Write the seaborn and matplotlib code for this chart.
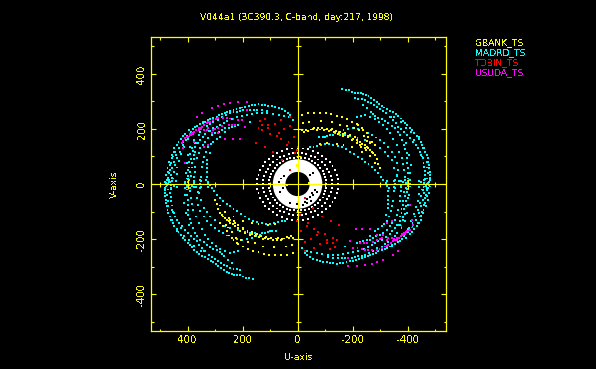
import pandas as pd
import seaborn as sns
import matplotlib
matplotlib.use("Agg")
import matplotlib.pyplot as plt
from matplotlib.patches import Wedge

title = "V044a1 (3C390.3, C-band, day:217, 1998)"
stations = ["GBANK_TS", "MADRD_TS", "TDBIN_TS", "USUDA_TS"]
colors = {"GBANK_TS": "#ffff00", "MADRD_TS": "#00ffff", "TDBIN_TS": "#ff0000", "USUDA_TS": "#ff00ff", "ALL": "#ffffff", "GAP": "#000000"}
major_ticks = [400, 200, 0, -200, -400]
major_labels = ["400", "200", "0", "-200", "-400"]
minor_ticks = [500, 300, 100, -100, -300, -500]

# points, (u, v), one list per quadrant
madrd_ul = [(481,-16),(481,9),(478,33),(473,57),(466,81),(457,105),(448,130),(433,154),(415,175),
    (461,-16),(463,9),(461,33),(456,57),(449,81),(441,105),(432,130),(418,154),(403,175),(388,190),(372,206),(354,217),(336,227),(318,235),(294,245),(275,253),(255,262),(233,269),(211,275),(191,281),(166,286),(142,289),(118,287),(94,282),(69,276),(45,265),(27,251),(17,233),
    (450,-8),(452,20),(450,45),(445,70),(438,95),(428,118),(418,140),(405,160),
    (409,-16),(409,9),(406,39),(403,75),(397,105),(391,136),(378,160),(354,190),(330,211),(306,227),(275,242),(245,257),(221,263),(197,269),(172,269),(148,269),(112,265),
    (391,-16),(393,15),(391,45),(384,75),(378,105),(372,136),(354,160),(336,182),(306,202),(281,215),(257,230),(221,242),(184,251),(148,257),(112,257),(69,251),(33,242),
    (400,-4),(398,28),(395,60),(388,90),(382,120),(366,150),(345,172),(320,192),
    (376,-10),(376,27),(372,63),(366,93),(354,130),(336,154),(312,178),(287,190),(263,202),(239,208),(215,215),(172,227),
    (352,-10),(352,27),(348,63),(340,99),(327,136),(306,154),(281,170),(263,190),
    (324,-10),(328,27),(330,57),(328,87),(320,112)]
madrd_ul2 = [(475,-5),(471,21),(470,45),(465,69),(458,93),(448,117),(440,142),(425,165),
    (470,-20),(470,0),(469,15),(468,40),(463,50),(460,75),(452,100),(445,118),(437,140),
    (440,-12),(442,10),(440,35),(437,60),(430,85),(423,108),(414,135),(400,165),
    (402,-10),(403,20),(400,50),(396,80),(390,110),(383,130),(372,148),(360,178),(342,198),(318,218),(290,234),(260,250),(233,260),(209,266),(185,268),(160,270),(130,268),
    (385,-8),(386,30),(384,60),(378,90),(372,118),(362,150),(345,170),(322,192),(294,208),(269,222),(240,236),(202,246),(166,254),(130,258),(90,255),(50,248),
    (345,222),(327,231),(306,240),(285,249),(265,257),(244,265),(222,272),(201,278),(178,283),(154,288),(130,288),(106,285),(82,279),(57,271),(36,258),
    (410,180),(395,195),(380,200),(365,210),(345,226),
    (376,10),(372,45),(360,112),(345,142),(325,166),(300,184),(275,196),(251,205),(227,212),
    (352,10),(345,80),(334,118),(316,145),(293,162),(326,8),(330,42),(329,72)]
madrd_ur = [(-163,345),(-187,341),(-209,332),(-230,330),(-248,324),(-267,312),(-288,299),(-306,284),(-327,272),(-348,261),(-367,247),(-385,230),(-399,215),(-417,196),(-433,175),(-448,154),(-460,130),(-470,105),(-476,81),(-479,57),(-482,33),(-479,9),(-476,-16),
    (-209,312),(-233,308),(-257,299),(-278,287),(-300,272),(-322,257),(-348,233),(-367,208),(-387,190),(-409,166),(-431,142),(-445,118),(-455,93),(-460,63),(-464,33),(-460,2),(-457,-22),
    (-340,245),(-395,205),(-425,160),(-452,100),(-470,60),(-472,20),(-468,-8),
    (-239,287),(-266,263),(-282,247),(-306,235),(-330,221),(-354,202),(-373,178),(-387,142),(-397,112),(-397,75),(-403,39),(-403,2),(-397,-19),
    (-215,242),(-245,251),(-282,235),(-312,215),(-336,184),(-360,142),(-379,93),(-387,51),(-394,2),
    (-100,172),(-136,184),(-167,196),(-203,202),(-239,196),(-270,178),(-300,160),(-330,136),(-354,99),(-367,51),(-354,15),(-354,-16),
    (-45,133),(-70,139),(-100,146),(-130,142),(-161,133),(-191,118),(-221,99),(-245,81),(-270,63),(-294,39),(-312,15),(-327,-5),(-334,-16),
    (-79,170),(-106,175),(-154,178),(-191,175),(-245,160),(-282,142),(-318,118),(-342,87),(-362,30),(-375,-5)]
madrd_ur2 = [(-175,342),(-198,336),(-220,331),(-239,327),(-258,318),(-277,306),(-297,292),(-316,278),(-337,266),(-357,254),(-376,238),(-392,222),(-408,205),(-425,185),(-440,164),(-454,142),(-465,118),(-473,93),(-478,69),(-481,45),(-481,21),(-478,-3),
    (-221,310),(-245,304),(-268,293),(-289,280),(-311,264),(-335,245),(-357,220),(-377,199),(-398,178),(-420,154),(-438,130),(-450,105),(-458,78),(-462,48),(-462,18),(-458,-10),
    (-455,130),(-470,80),(-475,40),(-470,0),(-440,170),(-412,190),(-375,225),(-350,245),
    (-252,275),(-274,255),(-294,241),(-318,228),(-342,211),(-364,190),(-380,160),(-392,127),(-397,94),(-400,57),(-403,20),(-400,-8),(-410,40),(-408,0),(-412,70),(-405,105),(-395,150),
    (-230,246),(-264,243),(-297,225),(-324,200),(-348,163),(-370,118),(-383,72),(-390,27),
    (-118,178),(-152,190),(-185,199),(-221,199),(-255,187),(-285,169),(-315,148),(-342,118),(-361,75),(-360,33),(-354,0),
    (-58,136),(-85,143),(-115,144),(-146,138),(-176,126),(-206,109),(-233,90),(-258,72),(-282,51),(-303,27),(-320,5),
    (-92,172),(-130,177),(-172,177),(-218,168),(-264,151),(-300,130),(-330,103),(-352,58),(-368,12)]
madrd_lr = [(-481,16),(-481,-9),(-478,-33),(-473,-57),(-466,-81),(-457,-105),(-448,-130),(-433,-154),(-415,-175),
    (-461,16),(-463,-9),(-461,-33),(-456,-57),(-449,-81),(-441,-105),(-432,-130),(-418,-154),(-403,-175),(-388,-190),(-372,-206),(-354,-217),(-336,-227),(-318,-235),(-294,-245),(-275,-253),(-255,-262),(-233,-269),(-211,-275),(-191,-281),(-166,-286),(-142,-289),(-118,-287),(-94,-282),(-69,-276),(-45,-265),(-27,-251),(-17,-233),
    (-450,8),(-452,-20),(-450,-45),(-445,-70),(-438,-95),(-428,-118),(-418,-140),(-405,-160),
    (-409,16),(-409,-9),(-406,-39),(-403,-75),(-397,-105),(-391,-136),(-378,-160),(-354,-190),(-330,-211),(-306,-227),(-275,-242),(-245,-257),(-221,-263),(-197,-269),(-172,-269),(-148,-269),(-112,-265),
    (-391,16),(-393,-15),(-391,-45),(-384,-75),(-378,-105),(-372,-136),(-354,-160),(-336,-182),(-306,-202),(-281,-215),(-257,-230),(-221,-242),(-184,-251),(-148,-257),(-112,-257),(-69,-251),(-33,-242),
    (-400,4),(-398,-28),(-395,-60),(-388,-90),(-382,-120),(-366,-150),(-345,-172),(-320,-192),
    (-376,10),(-376,-27),(-372,-63),(-366,-93),(-354,-130),(-336,-154),(-312,-178),(-287,-190),(-263,-202),(-239,-208),(-215,-215),(-172,-227),
    (-352,10),(-352,-27),(-348,-63),(-340,-99),(-327,-136),(-306,-154),(-281,-170),(-263,-190),
    (-324,10),(-328,-27),(-330,-57),(-328,-87),(-320,-112)]
madrd_lr2 = [(-475,5),(-471,-21),(-470,-45),(-465,-69),(-458,-93),(-448,-117),(-440,-142),(-425,-165),
    (-470,20),(-470,0),(-469,-15),(-468,-40),(-463,-50),(-460,-75),(-452,-100),(-445,-118),(-437,-140),
    (-440,12),(-442,-10),(-440,-35),(-437,-60),(-430,-85),(-423,-108),(-414,-135),(-400,-165),
    (-402,10),(-403,-20),(-400,-50),(-396,-80),(-390,-110),(-383,-130),(-372,-148),(-360,-178),(-342,-198),(-318,-218),(-290,-234),(-260,-250),(-233,-260),(-209,-266),(-185,-268),(-160,-270),(-130,-268),
    (-385,8),(-386,-30),(-384,-60),(-378,-90),(-372,-118),(-362,-150),(-345,-170),(-322,-192),(-294,-208),(-269,-222),(-240,-236),(-202,-246),(-166,-254),(-130,-258),(-90,-255),(-50,-248),
    (-345,-222),(-327,-231),(-306,-240),(-285,-249),(-265,-257),(-244,-265),(-222,-272),(-201,-278),(-178,-283),(-154,-288),(-130,-288),(-106,-285),(-82,-279),(-57,-271),(-36,-258),
    (-410,-180),(-395,-195),(-380,-200),(-365,-210),(-345,-226),
    (-376,-10),(-372,-45),(-360,-112),(-345,-142),(-325,-166),(-300,-184),(-275,-196),(-251,-205),(-227,-212),
    (-352,-10),(-345,-80),(-334,-118),(-316,-145),(-293,-162),(-326,-8),(-330,-42),(-329,-72)]
madrd_ll = [(163,-345),(187,-341),(209,-332),(230,-330),(248,-324),(267,-312),(288,-299),(306,-284),(327,-272),(348,-261),(367,-247),(385,-230),(399,-215),(417,-196),(433,-175),(448,-154),(460,-130),(470,-105),(476,-81),(479,-57),(482,-33),(479,-9),(476,16),
    (209,-312),(233,-308),(257,-299),(278,-287),(300,-272),(322,-257),(348,-233),(367,-208),(387,-190),(409,-166),(431,-142),(445,-118),(455,-93),(460,-63),(464,-33),(460,-2),(457,22),
    (340,-245),(395,-205),(425,-160),(452,-100),(470,-60),(472,-20),(468,8),
    (239,-287),(266,-263),(282,-247),(306,-235),(330,-221),(354,-202),(373,-178),(387,-142),(397,-112),(397,-75),(403,-39),(403,-2),(397,19),
    (215,-242),(245,-251),(282,-235),(312,-215),(336,-184),(360,-142),(379,-93),(387,-51),(394,-2),
    (100,-172),(136,-184),(167,-196),(203,-202),(239,-196),(270,-178),(300,-160),(330,-136),(354,-99),(367,-51),(354,-15),(354,16),
    (45,-133),(70,-139),(100,-146),(130,-142),(161,-133),(191,-118),(221,-99),(245,-81),(270,-63),(294,-39),(312,-15),(327,5),(334,16),
    (79,-170),(106,-175),(154,-178),(191,-175),(245,-160),(282,-142),(318,-118),(342,-87),(362,-30),(375,5)]
madrd_ll2 = [(175,-342),(198,-336),(220,-331),(239,-327),(258,-318),(277,-306),(297,-292),(316,-278),(337,-266),(357,-254),(376,-238),(392,-222),(408,-205),(425,-185),(440,-164),(454,-142),(465,-118),(473,-93),(478,-69),(481,-45),(481,-21),(478,3),
    (221,-310),(245,-304),(268,-293),(289,-280),(311,-264),(335,-245),(357,-220),(377,-199),(398,-178),(420,-154),(438,-130),(450,-105),(458,-78),(462,-48),(462,-18),(458,10),
    (455,-130),(470,-80),(475,-40),(470,0),(440,-170),(412,-190),(375,-225),(350,-245),
    (252,-275),(274,-255),(294,-241),(318,-228),(342,-211),(364,-190),(380,-160),(392,-127),(397,-94),(400,-57),(403,-20),(400,8),(410,-40),(408,0),(412,-70),(405,-105),(395,-150),
    (230,-246),(264,-243),(297,-225),(324,-200),(348,-163),(370,-118),(383,-72),(390,-27),
    (118,-178),(152,-190),(185,-199),(221,-199),(255,-187),(285,-169),(315,-148),(342,-118),(361,-75),(360,-33),(354,0),
    (58,-136),(85,-143),(115,-144),(146,-138),(176,-126),(206,-109),(233,-90),(258,-72),(282,-51),(303,-27),(320,-5),
    (92,-172),(130,-177),(172,-177),(218,-168),(264,-151),(300,-130),(330,-103),(352,-58),(368,-12)]

gbank_ur = [(-15,251),(-39,257),(-61,259),(-82,259),(-104,257),(-122,253),(-142,247),(-161,242),(-179,235),(-197,227),(-215,217),(-233,205),(-251,187),
    (-21,223),(-43,227),(-84,230),(-124,227),(-154,215),(-179,211),
    (-15,196),(-24,190),(-39,194),(-60,202),(-76,202),(-88,202),(-106,200),(-124,199),(-140,194),(-154,190),(-173,184),(-191,178),(-209,170),(-227,154),(-245,142),(-257,130),(-270,118),(-282,105),
    (-50,198),(-70,196),(-97,196),(-115,192),(-132,188),(-148,182),(-165,176),(-182,170),(-198,160),(-215,148),(-232,136),(-250,122),
    (-221,215),(-239,196),(-257,172),(-270,154),(-282,142),(-215,160),(-227,142),(-245,130),
    (-82,146),(-106,148),(-142,146),(-167,142),(-197,133),(-233,118),(-264,102),(-282,78),(-300,57),
    (-165,182),(-182,175),(-200,165),(-218,158),(-236,146),(-251,136),(-264,124),(-276,112),(-288,92),(-294,72),(-205,205),(-224,195),(-240,175),(-252,158),(-262,148),(-30,195),(-55,200),(-80,198),(-100,198),(-120,195),(-136,190),(-150,186)]
gbank_ll = [(15,-251),(39,-257),(61,-259),(82,-259),(104,-257),(122,-253),(142,-247),(161,-242),(179,-235),(197,-227),(215,-217),(233,-205),(251,-187),
    (21,-223),(43,-227),(84,-230),(124,-227),(154,-215),(179,-211),
    (15,-196),(24,-190),(39,-194),(60,-202),(76,-202),(88,-202),(106,-200),(124,-199),(140,-194),(154,-190),(173,-184),(191,-178),(209,-170),(227,-154),(245,-142),(257,-130),(270,-118),(282,-105),
    (50,-198),(70,-196),(97,-196),(115,-192),(132,-188),(148,-182),(165,-176),(182,-170),(198,-160),(215,-148),(232,-136),(250,-122),
    (221,-215),(239,-196),(257,-172),(270,-154),(282,-142),(215,-160),(227,-142),(245,-130),
    (82,-146),(106,-148),(142,-146),(167,-142),(197,-133),(233,-118),(264,-102),(282,-78),(300,-57),
    (165,-182),(182,-175),(200,-165),(218,-158),(236,-146),(251,-136),(264,-124),(276,-112),(288,-92),(294,-72),(205,-205),(224,-195),(240,-175),(252,-158),(262,-148),(30,-195),(55,-200),(80,-198),(100,-198),(120,-195),(136,-190),(150,-186)]
gbank_mid = [(-3,-64),(-3,-70),(3,64),(3,70),(40,-5),(-40,5)]

usuda_ul = [(184,299),(215,297),(245,293),(269,291),(288,284),(312,275),(348,257),(366,245),(421,148),(409,166),(393,175),(384,184),(375,190),(360,202),(348,208),(330,221),(318,227),(306,233),(288,239),(257,239),(233,235),(203,233),(251,215),(227,215),(191,208),(288,202),(306,196),(360,196),(342,196),(324,202),(263,162),(235,162),(211,162),(324,142),(342,136),(378,154),(409,75),(415,130),(312,184),(288,184),(184,269),(397,170),(388,178),(381,182),
    (415,158),(402,170),(390,180),(368,196),(354,205),(339,214),(324,224),(298,236),(272,240),(245,238),(218,234),(240,215),(330,196),(351,199),(300,199),(275,210)]
usuda_lr = [(-184,-299),(-215,-297),(-245,-293),(-269,-291),(-288,-284),(-312,-275),(-348,-257),(-366,-245),(-421,-148),(-409,-166),(-393,-175),(-384,-184),(-375,-190),(-360,-202),(-348,-208),(-330,-221),(-318,-227),(-306,-233),(-288,-239),(-257,-239),(-233,-235),(-203,-233),(-251,-215),(-227,-215),(-191,-208),(-288,-202),(-306,-196),(-360,-196),(-342,-196),(-324,-202),(-263,-162),(-235,-162),(-211,-162),(-324,-142),(-342,-136),(-378,-154),(-409,-75),(-415,-130),(-312,-184),(-288,-184),(-184,-269),(-397,-170),(-388,-178),(-381,-182),
    (-415,-158),(-402,-170),(-390,-180),(-368,-196),(-354,-205),(-339,-214),(-324,-224),(-298,-236),(-272,-240),(-245,-238),(-218,-234),(-240,-215),(-330,-196),(-351,-199),(-300,-199),(-275,-210)]

tdbin_ul = [(136,230),(130,215),(142,202),(106,215),(106,202),(81,217),(130,196),(100,182),(69,184),(75,175),(48,199),(27,211),(61,233),(27,245),(118,235),(151,150),(120,136),(61,162),(33,154),(12,170),(39,142),(88,118),(57,87),(27,51),(3,124),(9,112),(-3,136)]
tdbin_lr = [(-136,-230),(-130,-215),(-142,-202),(-106,-215),(-106,-202),(-81,-217),(-130,-196),(-100,-182),(-69,-184),(-75,-175),(-48,-199),(-27,-211),(-61,-233),(-27,-245),(-118,-235),(-151,-150),(-120,-136),(-61,-162),(-33,-154),(-12,-170),(-39,-142),(-88,-118),(-57,-87),(-27,-51),(-3,-124),(-9,-112),(3,-136)]

# white rings around the central blob
white_outer = [(147,0),(146,17),(142,34),(136,50),(127,65),(117,79),(104,92),(90,103),(74,113),(56,120),(38,126),(19,129),(0,130),(-19,129),(-38,126),(-56,120),(-74,113),(-90,103),(-104,92),(-117,79),(-127,65),(-136,50),(-142,34),(-146,17),(-147,0),(-146,-17),(-142,-34),(-136,-50),(-127,-65),(-117,-79),(-104,-92),(-90,-103),(-74,-113),(-56,-120),(-38,-126),(-19,-129),(0,-130),(19,-129),(38,-126),(56,-120),(74,-113),(90,-103),(104,-92),(117,-79),(127,-65),(136,-50),(142,-34),(146,-17)]
white_mid = [(125,0),(124,15),(121,29),(115,43),(108,56),(99,68),(88,79),(76,89),(63,97),(48,103),(32,108),(16,111),(0,112),(-16,111),(-32,108),(-48,103),(-63,97),(-76,89),(-88,79),(-99,68),(-108,56),(-115,43),(-121,29),(-124,15),(-125,0),(-124,-15),(-121,-29),(-115,-43),(-108,-56),(-99,-68),(-88,-79),(-76,-89),(-63,-97),(-48,-103),(-32,-108),(-16,-111),(0,-112),(16,-111),(32,-108),(48,-103),(63,-97),(76,-89),(88,-79),(99,-68),(108,-56),(115,-43),(121,-29),(124,-15)]
white_inner = [(105,0),(104,13),(101,25),(97,37),(91,49),(83,59),(74,69),(64,77),(53,84),(40,90),(27,94),(14,96),(0,97),(-14,96),(-27,94),(-40,90),(-53,84),(-64,77),(-74,69),(-83,59),(-91,49),(-97,37),(-101,25),(-104,13),(-105,0),(-104,-13),(-101,-25),(-97,-37),(-91,-49),(-83,-59),(-74,-69),(-64,-77),(-53,-84),(-40,-90),(-27,-94),(-14,-96),(0,-97),(14,-96),(27,-94),(40,-90),(53,-84),(64,-77),(74,-69),(83,-59),(91,-49),(97,-37),(101,-25),(104,-13)]
# dark specks inside the white blob
gap_points = [(52,-16),(64,-28),(-45,33),(-57,39),(-27,-64),(-51,-34),(-63,-22),(27,-70),(3,-73),(-36,-56),(-45,-48),(-57,-40),(-70,-30),(-20,-75),(-35,-70),(-48,-62),(60,20),(48,30),(66,8)]

groups = [
    ("ALL", white_outer + white_mid + white_inner),
    ("MADRD_TS", madrd_ul + madrd_ul2 + madrd_ur + madrd_ur2 + madrd_lr + madrd_lr2 + madrd_ll + madrd_ll2),
    ("USUDA_TS", usuda_ul + usuda_lr),
    ("GBANK_TS", gbank_ur + gbank_ll + gbank_mid),
    ("TDBIN_TS", tdbin_ul + tdbin_lr),
    ("GAP", gap_points),
]
rows = []
for name, pts in groups:
    for u, v in pts:
        rows.append({"u": u, "v": v, "station": name})
df = pd.DataFrame(rows)

sns.set_style("dark")
plt.rcParams["text.antialiased"] = False
plt.rcParams["font.family"] = ["DejaVu Sans"]
plt.rcParams["font.size"] = 6.6

yellow = "#ffff00"
fig = plt.figure(figsize=(5.96, 3.69), dpi=100, facecolor="black")
ax = fig.add_axes([151 / 596, 1 - 331 / 369, 294.5 / 596, 293.7 / 369], facecolor="black")

ax.add_patch(Wedge((0, 0), 90, 0, 360, width=46, facecolor="white", edgecolor="none", zorder=1))
sns.scatterplot(data=df, x="u", y="v", hue="station", palette=colors, marker="s", s=2.0,
                linewidth=0, legend=False, antialiased=False, ax=ax, zorder=2)

ax.set_xlim(533, -538)
ax.set_ylim(-534, 533)

# axis lines through the origin, with their own ticks
ax.axhline(0, color=yellow, lw=0.8, zorder=5)
ax.axvline(0, color=yellow, lw=0.8, zorder=5)
off_zero = [t for t in major_ticks if t != 0]
ax.plot(off_zero, [0] * len(off_zero), "|", color=yellow, ms=6.5, mew=0.8, zorder=5)
ax.plot(minor_ticks, [0] * len(minor_ticks), "|", color=yellow, ms=3.6, mew=0.8, zorder=5)
ax.plot([0] * len(off_zero), off_zero, "_", color=yellow, ms=6.5, mew=0.8, zorder=5)
ax.plot([0] * len(minor_ticks), minor_ticks, "_", color=yellow, ms=3.6, mew=0.8, zorder=5)

ax.set_xticks(major_ticks, major_labels)
ax.set_yticks(major_ticks, major_labels)
ax.set_xticks(minor_ticks, minor=True)
ax.set_yticks(minor_ticks, minor=True)
ax.tick_params(which="both", direction="in", top=True, right=True, bottom=True, left=True,
               color=yellow, labelcolor=yellow, width=0.8)
ax.tick_params(which="major", length=3.6, labelsize=7.4)
ax.tick_params(which="minor", length=1.8)
ax.tick_params(axis="x", which="major", pad=3)
ax.tick_params(axis="y", which="major", pad=3)
plt.setp(ax.get_yticklabels(), rotation=90, va="center")
ax.grid(False)
for spine in ax.spines.values():
    spine.set_color(yellow)
    spine.set_linewidth(0.9)
    spine.set_visible(True)

ax.set_xlabel("U-axis", color=yellow, labelpad=6)
ax.set_ylabel("V-axis", color=yellow, labelpad=13)

fig.text(297 / 596, 1 - 17 / 369, title, color=yellow, ha="center", va="center")
for i, name in enumerate(stations):
    fig.text(475 / 596, 1 - (42.5 + 9.9 * i) / 369, name, color=colors[name], ha="left", va="center")

fig.savefig("out.png", dpi=100, facecolor="black")
